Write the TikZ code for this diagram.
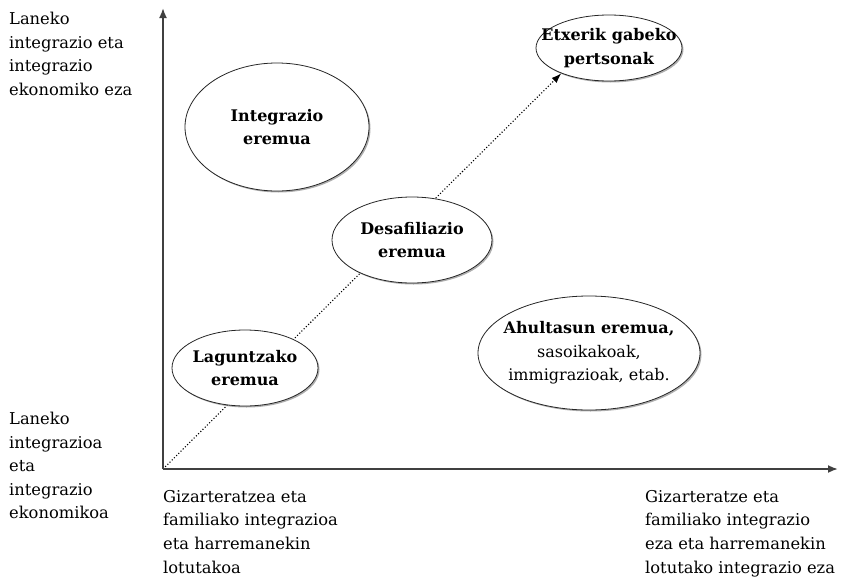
\documentclass[tikz,border=0pt]{standalone}
\usepackage{fontspec}
\setmainfont{DejaVu Serif}
\usetikzlibrary{shapes.geometric,shadows,arrows.meta}
\pgfdeclarelayer{bg}
\pgfsetlayers{bg,main}
\begin{document}
\begin{tikzpicture}[x=1pt,y=-1pt,
  zone/.style={ellipse, draw=black!85, line width=0.8pt, fill=white, inner ysep=0pt, inner xsep=-20pt,
    align=center, font=\fontsize{16}{23.5}\selectfont,
    drop shadow={shadow xshift=1.5pt, shadow yshift=-1.5pt, fill=black!45, opacity=0.7}},
  lbl/.style={align=left, anchor=north west, inner sep=0pt, font=\fontsize{16.3}{23.6}\selectfont},
  axis/.style={draw=black!75, line width=1.8pt, -{Latex[length=10pt,width=8pt]}},
  diag/.style={draw=black, line width=1.1pt, dotted, -{Latex[length=10pt,width=7pt]}},
]
\useasboundingbox (0,0) rectangle (844,584);
\coordinate (o) at (163,469);
\coordinate (ytop) at (163,8);
\coordinate (xend) at (838,469);
\draw[axis] (o) -- (ytop);
\draw[axis] (o) -- (xend);

\node[zone, minimum width=184pt, minimum height=128pt] (integ) at (277,127) {\textbf{Integrazio}\\\textbf{eremua}};
\node[zone, minimum width=146pt, minimum height=66pt] (etx) at (609,48) {\textbf{Etxerik gabeko}\\\textbf{pertsonak}};
\node[zone, minimum width=160pt, minimum height=86pt] (desaf) at (412,240) {\textbf{Desafiliazio}\\\textbf{eremua}};
\node[zone, minimum width=222pt, minimum height=114pt] (ahul) at (589,353) {\textbf{Ahultasun eremua,}\\sasoikakoak,\\immigrazioak, etab.};
\node[zone, minimum width=146pt, minimum height=76pt] (lagun) at (245,368) {\textbf{Laguntzako}\\\textbf{eremua}};

\begin{pgfonlayer}{bg}
\draw[diag] (o) -- (etx.208);
\end{pgfonlayer}

\node[lbl] (tl) at (9,12) {Laneko\\integrazio eta\\integrazio\\ekonomiko eza};
\node[lbl] (bl) at (9,412) {Laneko\\integrazioa\\eta\\integrazio\\ekonomikoa};
\node[lbl] (bm) at (163,490) {Gizarteratzea eta\\familiako integrazioa\\eta harremanekin\\lotutakoa};
\node[lbl] (br) at (645,490) {Gizarteratze eta\\familiako integrazio\\eza eta harremanekin\\lotutako integrazio eza};
\end{tikzpicture}
\end{document}
